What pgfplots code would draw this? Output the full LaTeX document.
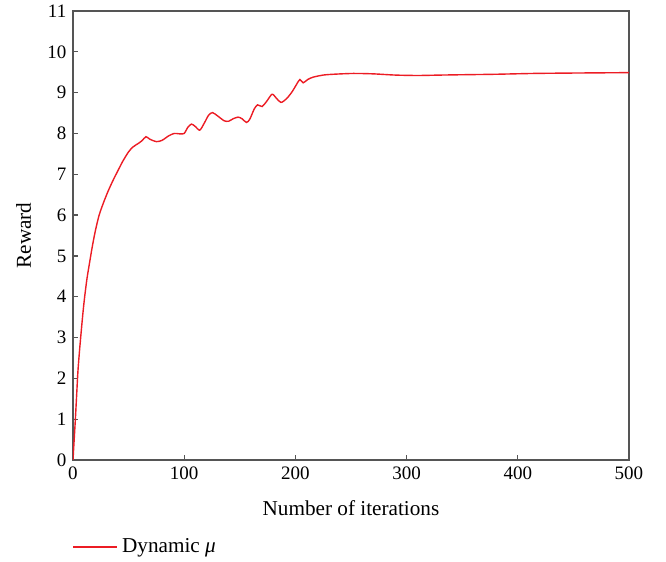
\documentclass[border=0pt]{standalone}
\usepackage{fontspec}
\setmainfont{Liberation Serif}
\usepackage{pgfplots}
\pgfplotsset{compat=1.18}
\definecolor{curvered}{RGB}{236,28,36}
\definecolor{axisgray}{RGB}{85,85,85}

\begin{document}
\fontsize{9.5}{11}\selectfont
\begin{tikzpicture}
\begin{axis}[
  scale only axis,
  width=278pt, height=224.5pt,
  xmin=0, xmax=500, ymin=0, ymax=11,
  xtick={0,100,...,500},
  ytick={0,1,...,11},
  tick pos=left,
  tick align=inside,
  major tick length=2.5pt,
  axis line style={axisgray, line width=0.7pt},
  every tick/.style={axisgray, line width=0.6pt},
  /pgf/number format/assume math mode=true,
  tick label style={font=\fontsize{9.5}{11}\selectfont},
  label style={font=\fontsize{10.6}{12}\selectfont},
  xlabel={Number of iterations},
  xlabel style={yshift=-4pt},
  ylabel={Reward},
  ylabel style={yshift=1.5pt},
  legend style={at={(axis description cs:-0.012,-0.194)}, anchor=west,
    draw=none, fill=none, font=\fontsize{10.6}{12}\selectfont},
  legend cell align=left,
  legend image code/.code={\draw[#1] (0pt,0pt) -- (17.5pt,0pt);
    \path (0pt,0pt) -- (22pt,0pt);},
]
\addplot[curvered, line width=0.7pt, smooth, tension=0.45] coordinates {
(0,0) (1,0.47) (2.1,0.98) (3.3,1.6) (4.5,2.2) (6,2.72) (7.5,3.18)
(9,3.62) (10.5,4.0) (12.5,4.43) (15,4.85) (17.5,5.25) (20,5.6)
(23,5.95) (26,6.2) (31,6.55) (36,6.85)
(41,7.12) (45,7.33) (50,7.55) (54,7.67) (59,7.76) (62,7.82) (65.6,7.92)
(69,7.86) (75,7.80) (80,7.83) (86,7.94) (91,8.0) (96,7.99) (100,8.0)
(103,8.14) (106.5,8.23) (110,8.17) (114,8.08) (118,8.25) (122,8.45)
(125.5,8.51) (130,8.43) (136,8.31) (140,8.30) (144,8.36) (148.5,8.40)
(152,8.36) (156,8.27) (159,8.35) (163,8.6) (166,8.7) (170,8.66)
(174,8.78) (179,8.96) (183,8.86) (187,8.76) (192,8.85) (197,9.02)
(201,9.2) (204,9.32) (207,9.24) (211,9.32) (216,9.38) (225,9.43)
(234,9.45) (252,9.47) (270,9.46) (290,9.43) (310,9.42) (330,9.43)
(354,9.44) (380,9.45) (414,9.47) (450,9.48) (500,9.49)
};
\addlegendentry{Dynamic \textit{μ}}
\end{axis}
\pgfresetboundingbox
\path[use as bounding box] (-36.5pt,-51pt) rectangle (296.5pt,230pt);
\end{tikzpicture}
\end{document}
